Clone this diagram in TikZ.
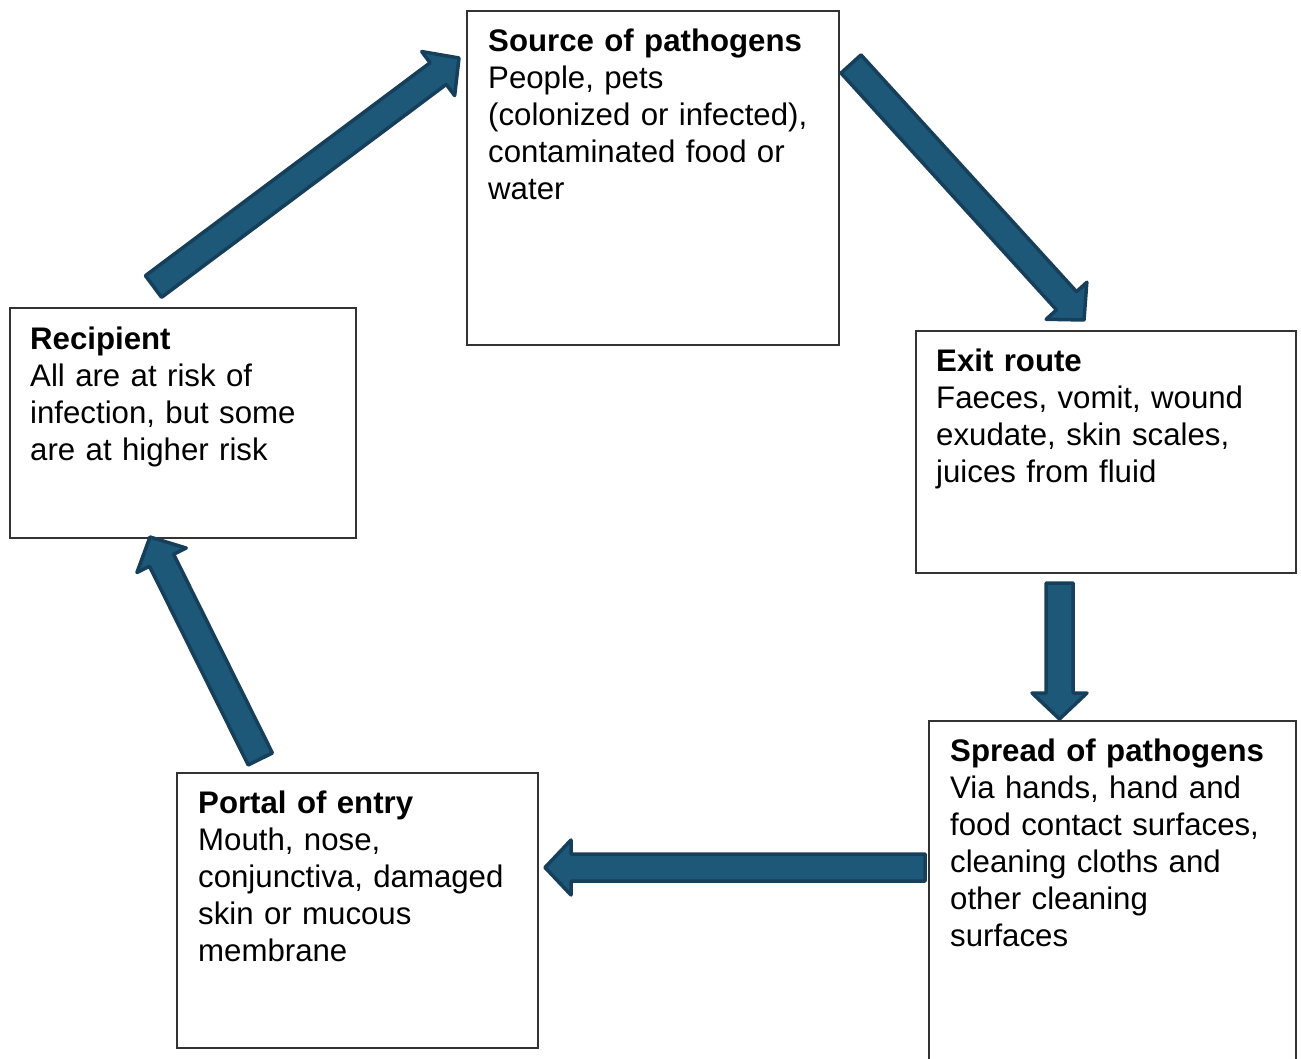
\documentclass[tikz,border=0pt]{standalone}
\usepackage{fontspec}
\setmainfont{Liberation Sans}
\usetikzlibrary{calc}
\definecolor{arrowfill}{HTML}{1D5878}
\definecolor{arrowline}{HTML}{153F5B}
\definecolor{boxline}{HTML}{333333}

% block arrow from #1 (tail) to #2 (tip)
\newcommand\cyclearrow[2]{%
  \coordinate (#1-b) at ($(#2)!26pt!(#1)$);
  \draw[blockarr] ($(#1)!13.5pt!90:(#2)$) -- ($(#1-b)!13.5pt!90:(#2)$) -- ($(#1-b)!27.5pt!90:(#2)$) -- (#2)
    -- ($(#1-b)!27.5pt!-90:(#2)$) -- ($(#1-b)!13.5pt!-90:(#2)$) -- ($(#1)!13.5pt!-90:(#2)$) -- cycle;}

\begin{document}
\begin{tikzpicture}[x=1pt,y=-1pt,
  box/.style={draw=boxline,line width=1.3pt,outer sep=0pt,anchor=north west},
  txt/.style={anchor=north west,inner sep=0pt,text width=350pt,align=left,
              font=\fontsize{31.2}{37}\selectfont},
  blockarr/.style={fill=arrowfill,draw=arrowline,line width=3.5pt,line join=round}]
  \useasboundingbox[fill=white] (0,0) rectangle (1301,1059);
  % boxes
  \node[box,minimum width=372pt,minimum height=334pt] (src) at (467,11) {};
  \node[box,minimum width=380pt,minimum height=242pt] (exit) at (916,331) {};
  \node[box,minimum width=367pt,minimum height=344pt] (spr) at (929,721) {};
  \node[box,minimum width=361pt,minimum height=275pt] (por) at (177,773) {};
  \node[box,minimum width=346pt,minimum height=230pt] (rec) at (10,308) {};
  % texts
  \node[txt] (src-t) at ([shift={(21,14)}]src.north west)
    {\strut\textbf{Source of pathogens}\\People, pets\\(colonized or infected),\\contaminated food or\\water};
  \node[txt] (exit-t) at ([shift={(20,14)}]exit.north west)
    {\strut\textbf{Exit route}\\Faeces, vomit, wound\\exudate, skin scales,\\juices from fluid};
  \node[txt] (spr-t) at ([shift={(21,14)}]spr.north west)
    {\strut\textbf{Spread of pathogens}\\Via hands, hand and\\food contact surfaces,\\cleaning cloths and\\other cleaning\\surfaces};
  \node[txt] (por-t) at ([shift={(21,14)}]por.north west)
    {\strut\textbf{Portal of entry}\\Mouth, nose,\\conjunctiva, damaged\\skin or mucous\\membrane};
  \node[txt] (rec-t) at ([shift={(20,15)}]rec.north west)
    {\strut\textbf{Recipient}\\All are at risk of\\infection, but some\\are at higher risk};
  % arrow ends
  \coordinate (a1) at ([shift={(-29.5,-21.5)}]rec.north);
  \coordinate (a1e) at ([shift={(-8,47)}]src.north west);
  \coordinate (a2) at ([shift={(12,53)}]src.north east);
  \coordinate (a2e) at ([shift={(-22,-11)}]exit.north);
  \coordinate (a3) at ([shift={(-46.5,10)}]exit.south);
  \coordinate (a3e) at ([shift={(-53,-2)}]spr.north);
  \coordinate (a4) at ([shift={(-4,146.5)}]spr.north west);
  \coordinate (a4e) at ([shift={(7,94.5)}]por.north east);
  \coordinate (a5) at ([shift={(83.3,-14)}]por.north west);
  \coordinate (a5e) at ([shift={(140,-1)}]rec.south west);
  \cyclearrow{a1}{a1e}
  \cyclearrow{a2}{a2e}
  \cyclearrow{a3}{a3e}
  \cyclearrow{a4}{a4e}
  \cyclearrow{a5}{a5e}
\end{tikzpicture}
\end{document}
